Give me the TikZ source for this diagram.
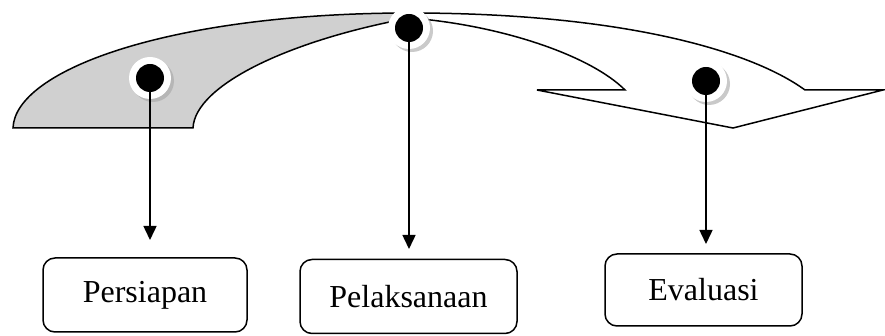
\documentclass[tikz,border=0pt]{standalone}
\usepackage{fontspec}
\setmainfont{Liberation Serif}
\usetikzlibrary{arrows.meta,shadows}
\definecolor{shade}{RGB}{208,208,208}

\begin{document}
\begin{tikzpicture}[x=0.5pt,y=-0.5pt,line width=0.75pt]
  \tikzstyle{stage}=[draw,rounded corners=6pt,minimum height=37pt,font=\fontsize{16}{19}\selectfont]
  \tikzstyle{ring}=[circle,fill=white,inner sep=0pt,minimum size=21pt,
    drop shadow={shadow xshift=1.5pt,shadow yshift=-1.5pt,fill=gray!70,opacity=.6}]
  \tikzstyle{dot}=[circle,fill=black,inner sep=0pt,minimum size=14pt]
  \tikzstyle{pointer}=[-{Triangle[length=7pt,width=6.5pt]}]
  \useasboundingbox (0,0) rectangle (885,336);
  % curved arrow
  \draw[fill=white] (410,13) .. controls (620,13) and (750,50) .. (805,90) -- (883,90)
    -- (733,128) -- (537,90) -- (625,90) .. controls (590,55) and (500,25) .. (410,18) -- cycle;
  \draw[fill=shade] (13,128) .. controls (15,70) and (170,13) .. (410,13) -- (410,18)
    .. controls (290,40) and (195,85) .. (193,128) -- cycle;
  % stage points
  \node[ring] (r1) at (150,78) {};
  \node[ring] (r2) at (409,28) {};
  \node[ring] (r3) at (706,81) {};
  \node[dot] (d1) at (r1) {};
  \node[dot] (d2) at (r2) {};
  \node[dot] (d3) at (r3) {};
  % stages
  \node[stage,minimum width=102pt] (prep) at (145,295) {Persiapan};
  \node[stage,minimum width=108.5pt] (exec) at (408.5,296.5) {Pelaksanaan};
  \node[stage,minimum width=98.5pt,minimum height=36pt] (eval) at (703.5,290) {Evaluasi};
  \coordinate (t1) at (150,240);
  \coordinate (t2) at (409,249);
  \coordinate (t3) at (706,244);
  \draw[pointer] (d1.center) -- (t1);
  \draw[pointer] (d2.center) -- (t2);
  \draw[pointer] (d3.center) -- (t3);
\end{tikzpicture}
\end{document}
